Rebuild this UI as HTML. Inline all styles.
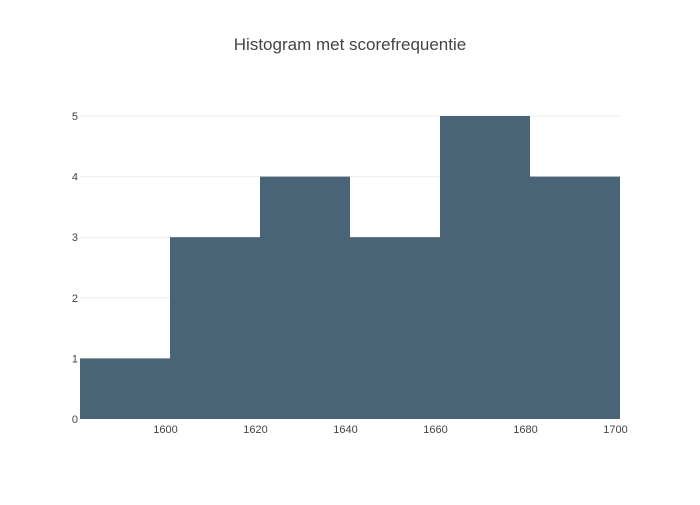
<!DOCTYPE html>
<html><head><meta charset="utf-8"><style>
body{margin:0;background:#fff;}
svg text{font-family:"Liberation Sans",sans-serif;}
</style></head><body>
<svg id="chart" width="700" height="500">
<text x="350" y="50" text-anchor="middle" font-size="17" fill="#444">Histogram met scorefrequentie</text>
<g id="grid"></g><g id="bars"></g><g id="xt"></g><g id="yt"></g>
</svg>
<script>
const binStarts=[1581,1601,1621,1641,1661,1681];
const binWidth=20;
const counts=[1,3,4,3,5,4];
const xTicks=[1600,1620,1640,1660,1680,1700];
const yTicks=[0,1,2,3,4,5];
const ns="http://www.w3.org/2000/svg";
const X=v=>80+(v-1581)*4.5;
const Y=v=>419-v*60.6;
function mk(t,a,p){const e=document.createElementNS(ns,t);for(const k in a)e.setAttribute(k,a[k]);p.appendChild(e);return e;}
const g=document.getElementById('grid'),b=document.getElementById('bars'),xt=document.getElementById('xt'),yt=document.getElementById('yt');
yTicks.forEach(v=>{
 if(v>0){const l=mk('line',{x1:80,x2:620,y1:Y(v),y2:Y(v),stroke:'#eee','stroke-width':1},g);
 
 }
 const t=mk('text',{x:78,y:Y(v)+4,'text-anchor':'end','font-size':11,fill:'#444'},yt);t.textContent=v;
 
 
});
xTicks.forEach(v=>{
 const t=mk('text',{x:X(v),y:433,'text-anchor':'middle','font-size':11,fill:'#444'},xt);t.textContent=v;
 
 
});
binStarts.forEach((s,i)=>{
 const r=mk('rect',{x:X(s),y:Y(counts[i]),width:X(s+binWidth)-X(s),height:Y(0)-Y(counts[i]),fill:'#4a6477'},b);
 
 
});
</script>
</body></html>
